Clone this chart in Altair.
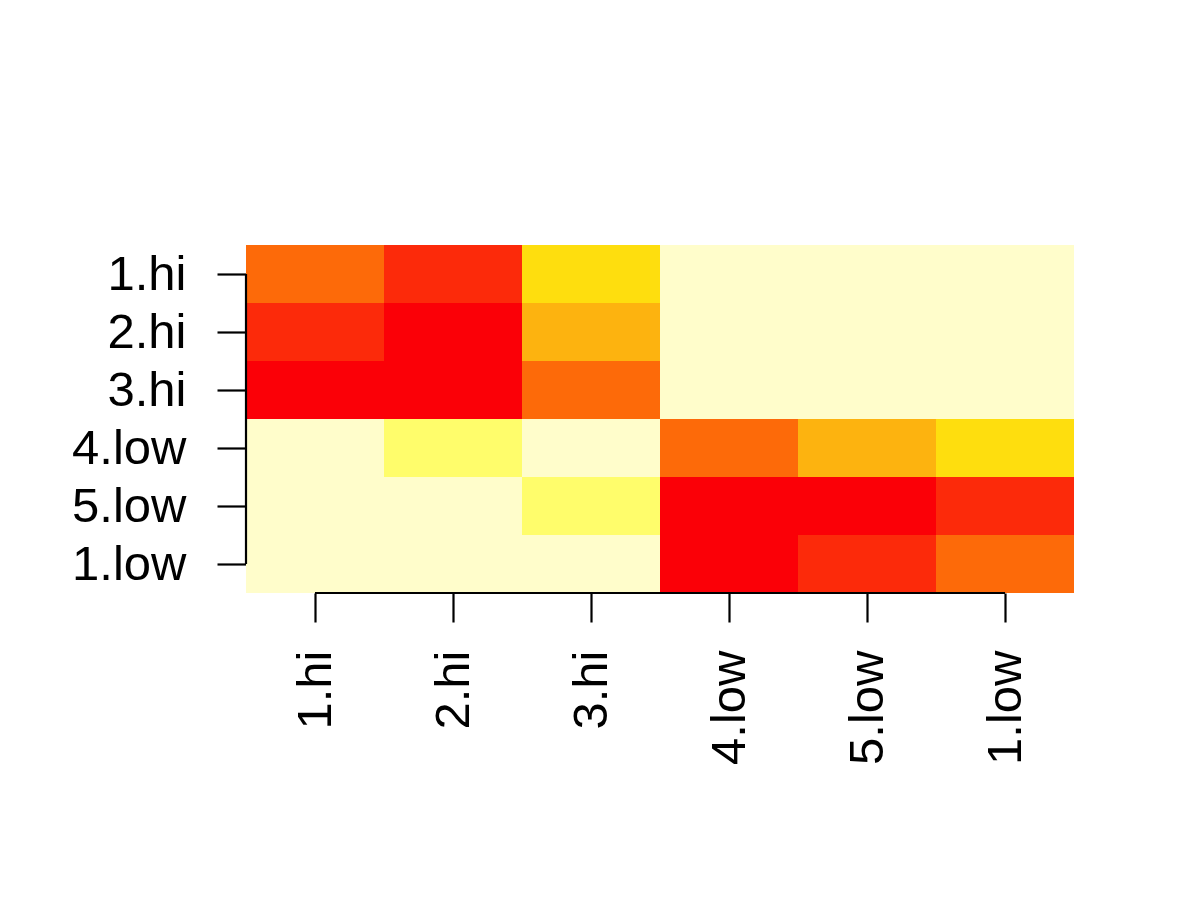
import altair as alt
import pandas as pd

# Row / column labels (top to bottom, left to right)
row_labels = ["1.hi", "2.hi", "3.hi", "4.low", "5.low", "1.low"]
col_labels = ["1.hi", "2.hi", "3.hi", "4.low", "5.low", "1.low"]

# Colour level per cell (1 = strongest / red, 7 = weakest / pale)
row_1hi = [3, 2, 5, 7, 7, 7]
row_2hi = [2, 1, 4, 7, 7, 7]
row_3hi = [1, 1, 3, 7, 7, 7]
row_4low = [7, 6, 7, 3, 4, 5]
row_5low = [7, 7, 6, 1, 1, 2]
row_1low = [7, 7, 7, 1, 2, 3]

levels = [1, 2, 3, 4, 5, 6, 7]
palette = ["#FB0007", "#FC2A0A", "#FD6A09", "#FDB30F", "#FEDE0E", "#FFFD6B", "#FFFDCB"]

matrix = [row_1hi, row_2hi, row_3hi, row_4low, row_5low, row_1low]
records = []
for ri, row in enumerate(matrix):
    for ci, v in enumerate(row):
        records.append({
            "row": row_labels[ri], "col": col_labels[ci],
            "x0": ci + 0.5, "x1": ci + 1.5,
            "y0": ri + 0.5, "y1": ri + 1.5,
            "level": v,
        })
df = pd.DataFrame(records)

FONT = "Liberation Sans"
FS = 49

xlabel_expr = "[" + ",".join(f"'{c}'" for c in col_labels) + "][datum.value-1]"
ylabel_expr = "[" + ",".join(f"'{r}'" for r in row_labels) + "][datum.value-1]"

xscale = alt.Scale(domain=[0.5, 6.5], nice=False, zero=False)
yscale = alt.Scale(domain=[0.5, 6.5], nice=False, zero=False, reverse=True)

heat = alt.Chart(df).mark_rect(stroke=None).encode(
    x=alt.X("x0:Q", scale=xscale, title=None,
            axis=alt.Axis(values=[1, 2, 3, 4, 5, 6], labelExpr=xlabel_expr,
                          domain=False, grid=False, tickSize=29, tickWidth=2.2,
                          tickColor="black", labelAngle=270, labelAlign="right",
                          labelBaseline="middle", labelPadding=28,
                          labelFont=FONT, labelFontSize=FS, labelColor="black")),
    x2="x1:Q",
    y=alt.Y("y0:Q", scale=yscale, title=None,
            axis=alt.Axis(values=[1, 2, 3, 4, 5, 6], labelExpr=ylabel_expr,
                          domain=False, grid=False, tickSize=29, tickWidth=2.2,
                          tickColor="black", labelPadding=31,
                          labelFont=FONT, labelFontSize=FS, labelColor="black")),
    y2="y1:Q",
    color=alt.Color("level:O", scale=alt.Scale(domain=levels, range=palette), legend=None),
)

yline = alt.Chart(pd.DataFrame({"a": [1], "b": [6]})).mark_rule(color="black", strokeWidth=2.2).encode(
    x=alt.value(0),
    y=alt.Y("a:Q", scale=yscale),
    y2="b:Q",
)
xline = alt.Chart(pd.DataFrame({"a": [1], "b": [6]})).mark_rule(color="black", strokeWidth=2.2).encode(
    y=alt.value(348),
    x=alt.X("a:Q", scale=xscale),
    x2="b:Q",
)

chart = alt.layer(heat, yline, xline).properties(
    width=828, height=348,
    autosize=alt.AutoSizeParams(type="none"),
    padding={"left": 246, "top": 245, "right": 126, "bottom": 307},
    background="white",
).configure_view(stroke=None)

chart.save("out.html", embed_options={"renderer": "svg", "actions": False})
